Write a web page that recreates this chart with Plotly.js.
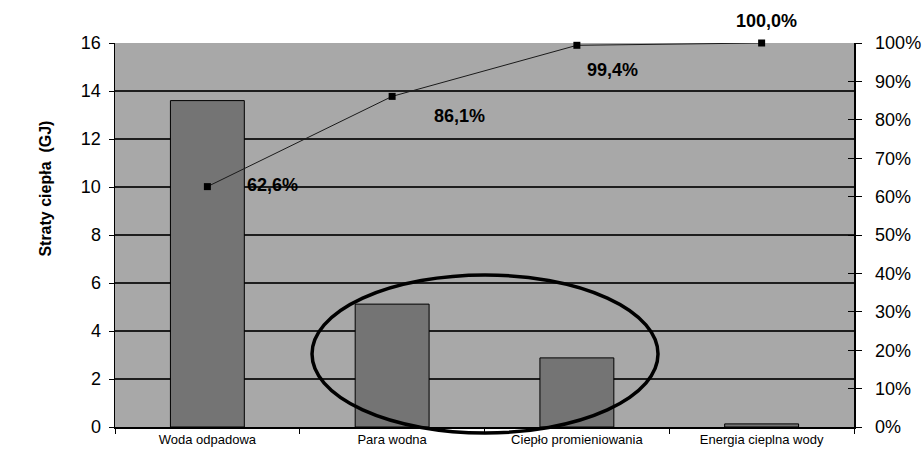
<!DOCTYPE html>
<html>
<head>
<meta charset="utf-8">
<script src="https://cdn.plot.ly/plotly-3.0.1.min.js"></script>
<style>html,body{margin:0;padding:0;background:#fff;}#chart{width:922px;height:450px;}</style>
</head>
<body>
<div id="chart"></div>
<script>
const categories = ["Woda odpadowa", "Para wodna", "Ciepło promieniowania", "Energia cieplna wody"];
const losses = [13.6, 5.12, 2.88, 0.13];
const cumulative = [0.626, 0.861, 0.994, 1.0];
const cumLabels = ["62,6%", "86,1%", "99,4%", "100,0%"];
const yTitle = "Straty ciepła  (GJ)";

const labelFont = {family: "Arial, Liberation Sans, sans-serif", size: 18, color: "#000"};
const offsets = [
  {xanchor: "left", xshift: 38, yshift: 2},
  {xanchor: "left", xshift: 40, yshift: -20},
  {xanchor: "left", xshift: 8, yshift: -25},
  {xanchor: "center", xshift: 5, yshift: 22}
];

const traces = [
  {
    type: "bar", x: categories, y: losses,
    marker: {color: "#747474", line: {color: "#000", width: 1}},
    hoverinfo: "skip", showlegend: false
  },
  {
    type: "scatter", mode: "lines+markers", x: categories, y: cumulative, yaxis: "y2",
    line: {color: "#1a1a1a", width: 1}, cliponaxis: false,
    marker: {symbol: "square", size: 7, color: "#000"},
    hoverinfo: "skip", showlegend: false
  },
  {
    type: "scatter", mode: "markers", x: categories, y: cumulative, yaxis: "y3",
    marker: {opacity: 0}, hoverinfo: "skip", showlegend: false
  }
];

const annotations = categories.map((c, i) => Object.assign({
  x: c, y: cumulative[i], xref: "x", yref: "y2", text: "<b>" + cumLabels[i] + "</b>",
  showarrow: false, font: labelFont, yanchor: "middle"
}, offsets[i]));
annotations.push({
  xref: "paper", yref: "paper", x: -0.108, y: 0.62, textangle: -90,
  text: "<b>" + yTitle + "</b>", showarrow: false,
  font: {family: "Arial, Liberation Sans, sans-serif", size: 16, color: "#000"}
});

const layout = {
  width: 922, height: 450,
  margin: {l: 115, r: 68, t: 43, b: 23},
  paper_bgcolor: "#ffffff", plot_bgcolor: "#a8a8a8",
  bargap: 0.6,
  font: {family: "Arial, Liberation Sans, sans-serif", color: "#000"},
  xaxis: {
    type: "category", range: [-0.5, 3.5], tickson: "boundaries",
    ticks: "outside", ticklen: 5, tickcolor: "#000",
    showline: true, linecolor: "#000", linewidth: 1.5,
    tickfont: {size: 13}, showgrid: false, fixedrange: true
  },
  yaxis: {
    range: [0, 16], dtick: 2, ticks: "outside", ticklen: 5, tickcolor: "#000",
    showline: true, linecolor: "#000", linewidth: 1.5,
    showgrid: true, gridcolor: "#1e1e1e", gridwidth: 1.3,
    zeroline: false, tickfont: {size: 18}, ticklabelstandoff: 4
  },
  yaxis2: {
    overlaying: "y", side: "right", range: [0, 1], dtick: 0.1, tickformat: ".0%",
    ticks: "outside", ticklen: 6, tickcolor: "#000",
    showline: true, linecolor: "#000", linewidth: 1.5,
    showgrid: false, zeroline: false, tickfont: {size: 18}, ticklabelstandoff: 10
  },
  yaxis3: {
    overlaying: "y", side: "right", range: [0, 1], dtick: 0.1,
    ticks: "inside", ticklen: 6, tickcolor: "#000", showticklabels: false,
    showline: false, showgrid: false, zeroline: false
  },
  shapes: [{
    type: "circle", xref: "paper", yref: "paper", layer: "above",
    x0: 0.2666, x1: 0.7348, y0: -0.0156, y1: 0.3958,
    line: {color: "#000", width: 3.5}, fillcolor: "rgba(0,0,0,0)"
  }],
  annotations: annotations
};

Plotly.newPlot("chart", traces, layout, {staticPlot: true});
</script>
</body>
</html>
